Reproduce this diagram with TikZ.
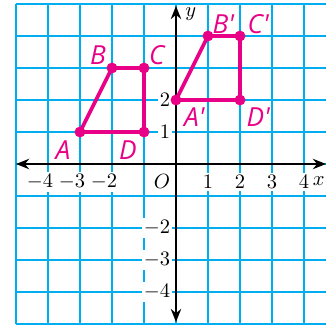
\documentclass[tikz,border=0pt]{standalone}
\usepackage{fontspec}
\newfontfamily\vertfont{Open Sans}
\usetikzlibrary{arrows.meta}
\definecolor{gridblue}{RGB}{0,174,239}
\definecolor{ptpink}{RGB}{232,0,135}
\tikzset{
  vlabel/.style={text=ptpink, font=\vertfont\itshape\fontsize{14}{16}\selectfont, inner sep=0pt},
  tlabel/.style={font=\fontsize{11}{13}\selectfont, fill=white, inner sep=1.2pt},
  seg/.style={ptpink, line width=2pt, line join=round},
  axis/.style={line width=1.1pt, <->},
}
\begin{document}
\begin{tikzpicture}[x=0.6cm, y=0.6cm, >={Stealth[length=7pt,width=5.5pt]}]
    \useasboundingbox (-5.5,-5.094) rectangle (4.6875,5.125);

    % Griglia
    \begin{scope}
        \clip (-5.5,-5.094) rectangle (4.6875,5.125);
        \draw[gridblue, line width=0.75pt, step=1] (-5,-5) grid (5,5);
    \end{scope}

    % Etichette sugli assi
    \foreach \n in {-4,-3,-2}
        \node[tlabel] (tx\n) at (\n,-0.56) {$\llap{$-$}\the\numexpr-\n\relax$};
    \foreach \n in {1,2,3,4}
        \node[tlabel] (tx\n) at (\n,-0.56) {$\n$};
    \node[tlabel] (orig) at (-0.44,-0.56) {$O$};
    \foreach \n in {1,2}
        \node[tlabel, anchor=east] (ty\n) at (-0.1,\n) {$\n$};
    \foreach \n in {-2,-3,-4}
        \node[tlabel, anchor=east] (ty\n) at (-0.1,\n) {$-\the\numexpr-\n\relax$};

    % Assi cartesiani
    \coordinate (xl) at (-5,0);
    \coordinate (xr) at (4.6875,0);
    \coordinate (yb) at (0,-4.94);
    \coordinate (yt) at (0,4.94);
    \draw[axis] (xl) -- (xr);
    \draw[axis] (yb) -- (yt);
    \node[anchor=east, inner sep=0.5pt, font=\fontsize{11}{13}\selectfont] (xlab) at (4.6875,-0.54) {$x$};
    \node[font=\fontsize{11}{13}\selectfont] (ylab) at (0.46,4.68) {$y$};

    % Figura ABCD
    \coordinate (A) at (-3,1);
    \coordinate (B) at (-2,3);
    \coordinate (C) at (-1,3);
    \coordinate (D) at (-1,1);
    \draw[seg] (A) -- (B) -- (C) -- (D) -- cycle;

    % Figura traslata A'B'C'D'
    \coordinate (A1) at (0,2);
    \coordinate (B1) at (1,4);
    \coordinate (C1) at (2,4);
    \coordinate (D1) at (2,2);
    \draw[seg] (A1) -- (B1) -- (C1) -- (D1) -- cycle;

    \foreach \p in {A,B,C,D,A1,B1,C1,D1}
        \fill[ptpink] (\p) circle (2.9pt);

    % Nomi dei vertici
    \node[vlabel] (labA) at (-3.53,0.44) {A};
    \node[vlabel] (labB) at (-2.44,3.4) {B};
    \node[vlabel] (labC) at (-0.6,3.4) {C};
    \node[vlabel] (labD) at (-1.5,0.44) {D};
    \node[vlabel] (labA1) at (0.57,1.45) {A'};
    \node[vlabel] (labB1) at (1.48,4.38) {B'};
    \node[vlabel] (labC1) at (2.57,4.38) {C'};
    \node[vlabel] (labD1) at (2.57,1.45) {D'};
\end{tikzpicture}
\end{document}
